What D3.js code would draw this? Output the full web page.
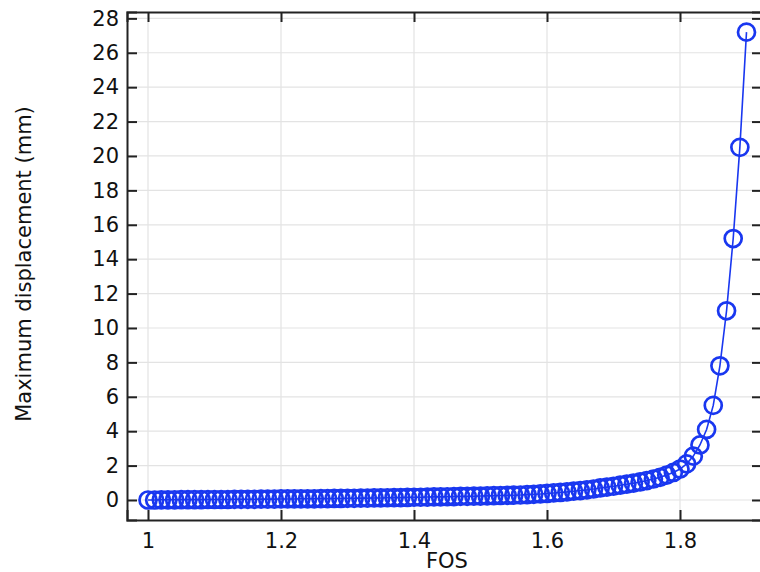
<!DOCTYPE html>
<html>
<head>
<meta charset="utf-8">
<script src="https://cdn.jsdelivr.net/npm/d3@7"></script>
<style>
  html, body { margin: 0; padding: 0; background: #fff; }
  svg { display: block; font-family: "DejaVu Sans", sans-serif; }
</style>
</head>
<body>
<svg id="chart" width="760" height="572"></svg>
<script>
// factor of safety (x) and maximum displacement in mm (y)
const fos = [
  1.00, 1.01, 1.02, 1.03, 1.04, 1.05, 1.06, 1.07, 1.08, 1.09,
  1.10, 1.11, 1.12, 1.13, 1.14, 1.15, 1.16, 1.17, 1.18, 1.19,
  1.20, 1.21, 1.22, 1.23, 1.24, 1.25, 1.26, 1.27, 1.28, 1.29,
  1.30, 1.31, 1.32, 1.33, 1.34, 1.35, 1.36, 1.37, 1.38, 1.39,
  1.40, 1.41, 1.42, 1.43, 1.44, 1.45, 1.46, 1.47, 1.48, 1.49,
  1.50, 1.51, 1.52, 1.53, 1.54, 1.55, 1.56, 1.57, 1.58, 1.59,
  1.60, 1.61, 1.62, 1.63, 1.64, 1.65, 1.66, 1.67, 1.68, 1.69,
  1.70, 1.71, 1.72, 1.73, 1.74, 1.75, 1.76, 1.77, 1.78, 1.79,
  1.80, 1.81, 1.82, 1.83, 1.84, 1.85, 1.86, 1.87, 1.88, 1.89, 1.90
];
const displacement = [
  0.00, 0.00, 0.01, 0.01, 0.01, 0.02, 0.02, 0.02, 0.02, 0.03,
  0.03, 0.03, 0.03, 0.04, 0.04, 0.04, 0.04, 0.05, 0.05, 0.05,
  0.06, 0.06, 0.06, 0.07, 0.07, 0.07, 0.08, 0.08, 0.09, 0.09,
  0.10, 0.10, 0.11, 0.11, 0.12, 0.12, 0.13, 0.14, 0.14, 0.15,
  0.16, 0.16, 0.17, 0.18, 0.18, 0.19, 0.20, 0.21, 0.21, 0.22,
  0.23, 0.24, 0.25, 0.26, 0.27, 0.28, 0.29, 0.31, 0.33, 0.35,
  0.38, 0.41, 0.44, 0.47, 0.51, 0.55, 0.59, 0.64, 0.70, 0.75,
  0.80, 0.86, 0.92, 0.98, 1.05, 1.13, 1.22, 1.32, 1.45, 1.60,
  1.80, 2.10, 2.55, 3.20, 4.10, 5.50, 7.80, 11.0, 15.2, 20.5, 27.2
];
const xTicks = [1, 1.2, 1.4, 1.6, 1.8];
const yTicks = [0, 2, 4, 6, 8, 10, 12, 14, 16, 18, 20, 22, 24, 26, 28];

const blue = "rgb(25,55,240)";

const svg = d3.select("#chart");
const plotLeft = 127, plotTop = 12, plotRight = 762, plotBottom = 520;

const x = d3.scaleLinear().domain([0.9684, 1.9233]).range([plotLeft, plotRight]);
const y = d3.scaleLinear().domain([-1.163, 28.37]).range([plotBottom, plotTop]);

// grid
const grid = svg.append("g").attr("stroke", "#e3e3e3").attr("stroke-width", 1.2);
grid.selectAll("line.gx").data(xTicks).enter().append("line")
  .attr("x1", d => x(d)).attr("x2", d => x(d))
  .attr("y1", plotTop).attr("y2", plotBottom);
grid.selectAll("line.gy").data(yTicks).enter().append("line")
  .attr("x1", plotLeft).attr("x2", plotRight)
  .attr("y1", d => y(d)).attr("y2", d => y(d));

// axes, ticks pointing into the plot
const fmt = d => String(d);
const axB = svg.append("g").attr("transform", `translate(0,${plotBottom})`)
  .call(d3.axisBottom(x).tickValues(xTicks).tickSize(-10).tickPadding(13).tickFormat(fmt));
const axT = svg.append("g").attr("transform", `translate(0,${plotTop})`)
  .call(d3.axisTop(x).tickValues(xTicks).tickSize(-10).tickFormat(""));
const axL = svg.append("g").attr("transform", `translate(${plotLeft},0)`)
  .call(d3.axisLeft(y).tickValues(yTicks).tickSize(-10).tickPadding(8).tickFormat(fmt));
const axR = svg.append("g").attr("transform", `translate(${plotRight},0)`)
  .call(d3.axisRight(y).tickValues(yTicks).tickSize(-10).tickFormat(""));

[axB, axT, axL, axR].forEach(a => {
  a.select(".domain").attr("stroke", "#222").attr("stroke-width", 2);
  a.selectAll(".tick line").attr("stroke", "#222").attr("stroke-width", 2);
  a.selectAll(".tick text").attr("fill", "#111")
    .style("font-family", "'DejaVu Sans', sans-serif").style("font-size", "21px");
});

// data
const pts = fos.map((f, i) => [f, displacement[i]]);
svg.append("path")
  .datum(pts)
  .attr("fill", "none")
  .attr("stroke", blue)
  .attr("stroke-width", 1.6)
  .attr("d", d3.line().x(d => x(d[0])).y(d => y(d[1])));

svg.append("g").selectAll("circle").data(pts).enter().append("circle")
  .attr("cx", d => x(d[0]))
  .attr("cy", d => y(d[1]))
  .attr("r", 8.5)
  .attr("fill", "none")
  .attr("stroke", blue)
  .attr("stroke-width", 2.7);

// axis titles
svg.append("text")
  .attr("x", 447).attr("y", 568)
  .attr("text-anchor", "middle")
  .style("font-size", "21px").attr("fill", "#111")
  .text("FOS");
svg.append("text")
  .attr("transform", "translate(31,264) rotate(-90)")
  .attr("text-anchor", "middle")
  .style("font-size", "21px").attr("fill", "#111")
  .text("Maximum displacement (mm)");
</script>
</body>
</html>
